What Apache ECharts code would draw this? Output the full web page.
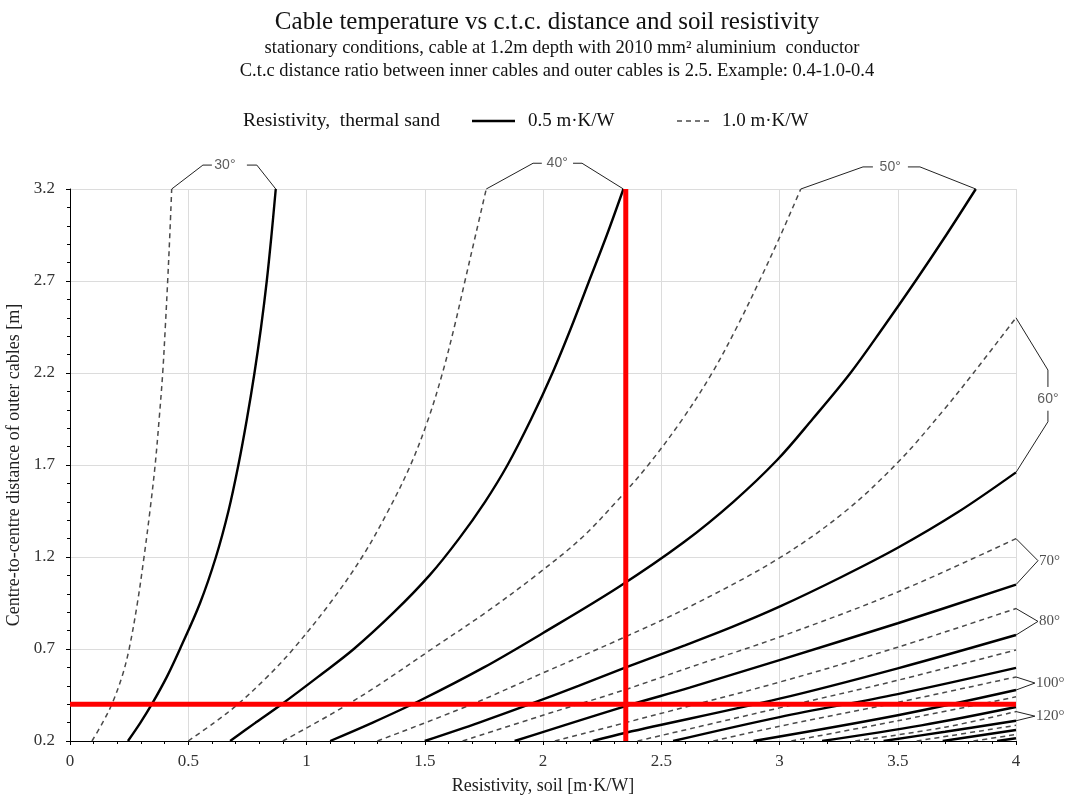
<!DOCTYPE html>
<html>
<head>
<meta charset="utf-8">
<script src="https://cdn.jsdelivr.net/npm/echarts@6/dist/echarts.min.js"></script>
<style>
  html, body { margin: 0; padding: 0; background: #fff; }
  #chart { width: 1069px; height: 795px; }
</style>
</head>
<body>
<div id="chart"></div>
<script>
// Isotherm points: [soil resistivity (m·K/W), c.t.c. distance of outer cables (m)]
// "solid" = thermal sand 0.5 m·K/W, "dashed" = thermal sand 1.0 m·K/W
const temps = [30, 40, 50, 60, 70, 80, 90, 100, 110, 120, 130, 140];

const solid30 = [[0.245, 0.2], [0.298, 0.3], [0.346, 0.4], [0.41, 0.55], [0.465, 0.7], [0.55, 0.95], [0.617, 1.2], [0.67, 1.45], [0.712, 1.7], [0.748, 1.95], [0.78, 2.2], [0.808, 2.45], [0.832, 2.7], [0.852, 2.95], [0.87, 3.2]];
const dashed30 = [[0.093, 0.2], [0.138, 0.3], [0.177, 0.4], [0.22, 0.55], [0.25, 0.7], [0.285, 0.95], [0.313, 1.2], [0.338, 1.45], [0.36, 1.7], [0.377, 1.95], [0.392, 2.2], [0.403, 2.45], [0.413, 2.7], [0.422, 2.95], [0.43, 3.2]];
const solid40 = [[0.677, 0.2], [0.785, 0.3], [0.895, 0.4], [1.05, 0.55], [1.20, 0.7], [1.37, 0.9], [1.52, 1.1], [1.645, 1.3], [1.755, 1.5], [1.85, 1.7], [1.95, 1.95], [2.04, 2.2], [2.12, 2.45], [2.195, 2.7], [2.27, 2.95], [2.34, 3.2]];
const dashed40 = [[0.50, 0.2], [0.61, 0.3], [0.71, 0.4], [0.835, 0.55], [0.944, 0.7], [1.10, 0.95], [1.235, 1.2], [1.345, 1.45], [1.44, 1.7], [1.515, 1.95], [1.575, 2.2], [1.625, 2.45], [1.67, 2.7], [1.715, 2.95], [1.76, 3.2]];
const solid50 = [[1.10, 0.2], [1.28, 0.3], [1.48, 0.42], [1.75, 0.6], [2.0, 0.787], [2.32, 1.037], [2.595, 1.28], [2.805, 1.5], [2.99, 1.727], [3.14, 1.95], [3.30, 2.2], [3.44, 2.45], [3.575, 2.7], [3.705, 2.95], [3.83, 3.2]];
const dashed50 = [[0.90, 0.2], [1.11, 0.35], [1.30, 0.5], [1.53, 0.7], [1.76, 0.9], [1.97, 1.1], [2.16, 1.3], [2.31, 1.5], [2.445, 1.7], [2.59, 1.95], [2.715, 2.2], [2.82, 2.45], [2.915, 2.7], [3.005, 2.95], [3.09, 3.2]];
const solid60 = [[1.50, 0.2], [1.73, 0.3], [1.945, 0.4], [2.15, 0.5], [2.35, 0.6], [2.60, 0.72], [2.80, 0.82], [3.0, 0.93], [3.26, 1.09], [3.5, 1.25], [3.75, 1.44], [4.0, 1.66]];
const dashed60 = [[1.30, 0.2], [1.70, 0.4], [2.0, 0.57], [2.32, 0.75], [2.62, 0.93], [3.0, 1.195], [3.28, 1.45], [3.51, 1.727], [3.695, 2.0], [3.82, 2.2], [4.0, 2.5]];
const solid70 = [[1.88, 0.2], [2.35, 0.39], [2.62, 0.49], [3.0, 0.64], [3.5, 0.84], [4.0, 1.05]];
const dashed70 = [[1.66, 0.2], [2.0, 0.34], [2.35, 0.48], [2.62, 0.6], [3.0, 0.765], [3.5, 1.01], [4.0, 1.30]];
const solid80 = [[2.21, 0.2], [2.35, 0.245], [3.0, 0.43], [3.5, 0.595], [4.0, 0.776]];
const dashed80 = [[2.05, 0.2], [2.35, 0.30], [3.0, 0.52], [3.5, 0.71], [4.0, 0.92]];
const solid90 = [[2.55, 0.2], [3.0, 0.33], [3.5, 0.455], [4.0, 0.597]];
const dashed90 = [[2.40, 0.2], [3.0, 0.38], [3.5, 0.53], [4.0, 0.695]];
const solid100 = [[2.89, 0.2], [3.5, 0.34], [4.0, 0.477]];
const dashed100 = [[2.72, 0.2], [3.0, 0.28], [3.5, 0.41], [4.0, 0.548]];
const solid110 = [[3.18, 0.2], [3.6, 0.285], [4.0, 0.385]];
const dashed110 = [[3.05, 0.2], [3.5, 0.31], [4.0, 0.44]];
const solid120 = [[3.44, 0.2], [3.7, 0.25], [4.0, 0.31]];
const dashed120 = [[3.32, 0.2], [3.7, 0.275], [4.0, 0.36]];
const solid130 = [[3.69, 0.2], [4.0, 0.26]];
const dashed130 = [[3.58, 0.2], [4.0, 0.285]];
const solid140 = [[3.92, 0.2], [4.0, 0.215]];
const dashed140 = [[3.82, 0.2], [4.0, 0.235]];

// Reading example: soil resistivity 2.35 m·K/W, outer c.t.c. distance 0.4 m
const readingX = [[2.35, 0.2], [2.35, 3.2]];
const readingY = [[0, 0.4], [4, 0.4]];

const solidCurves = [solid30, solid40, solid50, solid60, solid70, solid80, solid90, solid100, solid110, solid120, solid130, solid140];
const dashedCurves = [dashed30, dashed40, dashed50, dashed60, dashed70, dashed80, dashed90, dashed100, dashed110, dashed120, dashed130, dashed140];

const SERIF = '"Liberation Serif", "Times New Roman", serif';
const SANS = '"Liberation Sans", Arial, sans-serif';
const SOLID_NAME = '0.5 m·K/W';
const DASHED_NAME = '1.0 m·K/W';
const SOLID_STYLE = { color: '#000', width: 2.4 };
const DASHED_STYLE = { color: '#4a4a4a', width: 1.5, type: [5, 4] };

const last = arr => arr[arr.length - 1];
const tIdx = t => temps.indexOf(t);

// Bracket callouts tying each solid/dashed pair to its temperature label
const brackets = [];
const bracketLabels = [];

// Brackets above the plot (30°, 40°, 50°)
[
  { t: 30, y: 3.33, p: [0.562, 0.60, 0.748, 0.79], lx: 0.655 },
  { t: 40, y: 3.34, p: [1.958, 1.995, 2.127, 2.165], lx: 2.06 },
  { t: 50, y: 3.32, p: [3.353, 3.395, 3.543, 3.594], lx: 3.468 }
].forEach(b => {
  const d = last(dashedCurves[tIdx(b.t)]);
  const s = last(solidCurves[tIdx(b.t)]);
  brackets.push({ coords: [d, [b.p[0], b.y], [b.p[1], b.y]] });
  brackets.push({ coords: [[b.p[2], b.y], [b.p[3], b.y], s] });
  bracketLabels.push({ value: [b.lx, b.y], name: b.t + '°', label: { fontFamily: SANS, fontSize: 14, position: 'inside', color: '#333' } });
});

// Brace on the right for 60°
(() => {
  const d = last(dashed60), s = last(solid60);
  brackets.push({ coords: [d, [4.135, 2.216], [4.135, 2.124]] });
  brackets.push({ coords: [[4.135, 1.995], [4.135, 1.935], s] });
  bracketLabels.push({ value: [4.135, 2.06], name: '60°', label: { fontFamily: SANS, fontSize: 14, position: 'inside', color: '#333' } });
})();

// Chevrons on the right (70°, 80°, 100°, 120°)
[
  { t: 70, px: 4.093, py: 1.18 },
  { t: 80, px: 4.093, py: 0.85 },
  { t: 100, px: 4.08, py: 0.515 },
  { t: 120, px: 4.08, py: 0.335 }
].forEach(b => {
  const d = last(dashedCurves[tIdx(b.t)]);
  const s = last(solidCurves[tIdx(b.t)]);
  brackets.push({ coords: [d, [b.px, b.py], s] });
  bracketLabels.push({ value: [b.px, b.py], name: b.t + '°', label: { fontFamily: SERIF, fontSize: 15, position: 'right', distance: 1, color: '#222' } });
});

const series = [];
temps.forEach((t, i) => {
  series.push({
    name: DASHED_NAME, type: 'line', data: dashedCurves[i], smooth: 0.35, symbol: 'none',
    lineStyle: DASHED_STYLE, itemStyle: { color: DASHED_STYLE.color }, silent: true, z: 2
  });
  series.push({
    name: SOLID_NAME, type: 'line', data: solidCurves[i], smooth: 0.35, symbol: 'none',
    lineStyle: SOLID_STYLE, itemStyle: { color: SOLID_STYLE.color }, silent: true, z: 2
  });
});

series.push({
  type: 'lines', coordinateSystem: 'cartesian2d', polyline: true, clip: false, silent: true, z: 3,
  lineStyle: { color: '#222', width: 1, opacity: 1 },
  data: brackets
});
series.push({
  type: 'scatter', clip: false, silent: true, symbolSize: 0, z: 4,
  label: { show: true, formatter: p => p.name },
  data: bracketLabels
});

[readingX, readingY].forEach(d => series.push({
  type: 'line', data: d, symbol: 'none', silent: true, z: 5,
  lineStyle: { color: '#ff0000', width: 5 }, itemStyle: { color: '#ff0000' }
}));

const axisText = { fontFamily: SERIF, fontSize: 17, color: '#333' };
const legendY = 121;

const option = {
  animation: false,
  backgroundColor: '#fff',
  grid: { left: 70, top: 189, width: 946, height: 552, containLabel: false, outerBoundsMode: 'none' },
  graphic: [
    { type: 'text', x: 547, y: 22, style: { text: 'Cable temperature vs c.t.c. distance and soil resistivity', font: '25px ' + SERIF, fill: '#111', textAlign: 'center', textVerticalAlign: 'middle' } },
    { type: 'text', x: 562, y: 48, style: { text: 'stationary conditions, cable at 1.2m depth with 2010 mm² aluminium  conductor', font: '18.5px ' + SERIF, fill: '#111', textAlign: 'center', textVerticalAlign: 'middle' } },
    { type: 'text', x: 557, y: 71, style: { text: 'C.t.c distance ratio between inner cables and outer cables is 2.5. Example: 0.4-1.0-0.4', font: '18.5px ' + SERIF, fill: '#111', textAlign: 'center', textVerticalAlign: 'middle' } },
    // legend row
    { type: 'text', x: 243, y: legendY, style: { text: 'Resistivity,  thermal sand', font: '19.5px ' + SERIF, fill: '#111', textVerticalAlign: 'middle' } },
    { type: 'line', shape: { x1: 472, y1: legendY, x2: 515, y2: legendY }, style: { stroke: SOLID_STYLE.color, lineWidth: SOLID_STYLE.width } },
    { type: 'text', x: 528, y: legendY, style: { text: SOLID_NAME, font: '19px ' + SERIF, fill: '#111', textVerticalAlign: 'middle' } },
    { type: 'line', shape: { x1: 677, y1: legendY, x2: 712, y2: legendY }, style: { stroke: DASHED_STYLE.color, lineWidth: DASHED_STYLE.width, lineDash: DASHED_STYLE.type } },
    { type: 'text', x: 722, y: legendY, style: { text: DASHED_NAME, font: '19px ' + SERIF, fill: '#111', textVerticalAlign: 'middle' } }
  ],
  xAxis: {
    type: 'value', min: 0, max: 4, interval: 0.5,
    name: 'Resistivity, soil [m·K/W]', nameLocation: 'middle', nameGap: 36,
    nameTextStyle: { fontFamily: SERIF, fontSize: 18, color: '#222' },
    axisLine: { show: true, lineStyle: { color: '#000', width: 1 } },
    axisTick: { show: true, length: 4, lineStyle: { color: '#000' } },
    minorTick: { show: true, splitNumber: 5, length: 3, lineStyle: { color: '#000' } },
    splitLine: { show: true, lineStyle: { color: '#dcdcdc', width: 1 } },
    axisLabel: Object.assign({ margin: 12 }, axisText)
  },
  yAxis: {
    type: 'value', min: 0.2, max: 3.2, interval: 0.5,
    name: 'Centre-to-centre distance of outer cables [m]', nameLocation: 'middle', nameGap: 36,
    nameTextStyle: { fontFamily: SERIF, fontSize: 18, color: '#222' },
    axisLine: { show: true, lineStyle: { color: '#000', width: 1 } },
    axisTick: { show: true, length: 4, lineStyle: { color: '#000' } },
    minorTick: { show: true, splitNumber: 5, length: 3, lineStyle: { color: '#000' } },
    splitLine: { show: true, lineStyle: { color: '#dcdcdc', width: 1 } },
    axisLabel: Object.assign({ margin: 15, formatter: v => v.toFixed(1) }, axisText)
  },
  series: series
};

const chart = echarts.init(document.getElementById('chart'));
chart.setOption(option);
</script>
</body>
</html>
